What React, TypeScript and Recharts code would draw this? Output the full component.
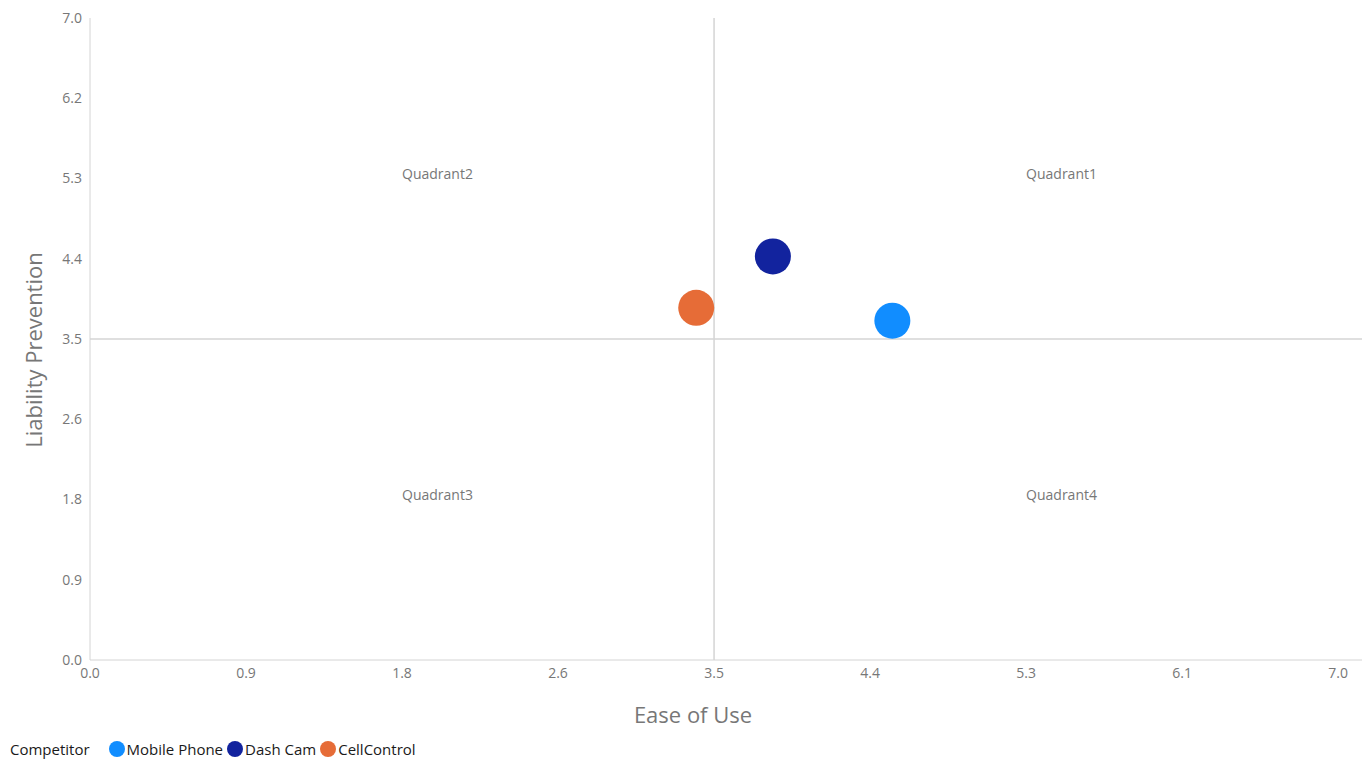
import React from 'react';
import {
  ScatterChart,
  Scatter,
  XAxis,
  YAxis,
  ReferenceLine,
} from 'recharts';

const competitors = ['Mobile Phone', 'Dash Cam', 'CellControl'];
const easeOfUse = [4.5, 3.83, 3.4];
const liabilityPrevention = [3.7, 4.4, 3.84];
const colors = ['#118DFF', '#12239E', '#E66C37'];

const tickValues = [0, 0.875, 1.75, 2.625, 3.5, 4.375, 5.25, 6.125, 7];
const xTickLabels = ['0.0', '0.9', '1.8', '2.6', '3.5', '4.4', '5.3', '6.1', '7.0'];
const yTickLabels = ['0.0', '0.9', '1.8', '2.6', '3.5', '4.4', '5.3', '6.2', '7.0'];

const quadrantNames = ['Quadrant1', 'Quadrant2', 'Quadrant3', 'Quadrant4'];
const quadrantX = [5.25, 1.75, 1.75, 5.25];
const quadrantY = [5.25, 5.25, 1.75, 1.75];

const FONT = '"Segoe UI", "Open Sans", "Noto Sans", sans-serif';
const GREY = '#777777';

const labelFrom = (labels: string[]) => (v: number) => {
  const i = tickValues.indexOf(v);
  return i >= 0 ? labels[i] : String(v);
};

const quadrantData = quadrantNames.map((name, i) => ({ name, x: quadrantX[i], y: quadrantY[i] }));

// quadrant names drawn as text at their data position
const QuadrantLabel = (props: any) => {
  const { cx, cy, payload } = props;
  return (
    <text x={cx} y={cy} dy={0} fill={GREY} fontSize={14} fontFamily={FONT}>
      {payload.name}
    </text>
  );
};

const Bubble = (props: any) => {
  const { cx, cy, fill } = props;
  return <circle cx={cx} cy={cy} r={18} fill={fill} />;
};

const YTitle = () => (
  <text
    x={33}
    y={350}
    transform="rotate(-90, 33, 350)"
    textAnchor="middle"
    dominantBaseline="central"
    fill={GREY}
    fontSize={22}
    fontFamily={FONT}
  >
    Liability Prevention
  </text>
);

export default function App() {
  return (
    <div style={{ position: 'absolute', left: 0, top: 0, width: 1362, height: 762, background: '#fff', fontFamily: FONT }}>
      <ScatterChart width={1362} height={740} margin={{ top: 18, right: 0, left: 0, bottom: 10 }}>
        <XAxis
          type="number"
          dataKey="x"
          domain={[0, 7.134]}
          ticks={tickValues}
          tickFormatter={labelFrom(xTickLabels)}
          tickLine={false}
          axisLine={{ stroke: '#d4d4d4' }}
          tick={{ fontSize: 14, fill: GREY, fontFamily: FONT }}
          height={70}
          allowDataOverflow
          label={{ value: 'Ease of Use', position: 'insideBottom', offset: 7, dx: -33, fill: GREY, fontSize: 22, fontFamily: FONT }}
        />
        <YAxis
          type="number"
          dataKey="y"
          domain={[0, 7]}
          ticks={tickValues}
          tickFormatter={labelFrom(yTickLabels)}
          tickLine={false}
          axisLine={{ stroke: '#d4d4d4' }}
          tick={{ fontSize: 14, fill: GREY, fontFamily: FONT }}
          width={90}
          label={{ content: <YTitle /> }}
        />
        <ReferenceLine x={3.5} stroke="#d4d4d4" strokeWidth={1.5} />
        <ReferenceLine y={3.5} stroke="#d4d4d4" strokeWidth={1.5} />
        <Scatter data={quadrantData} shape={<QuadrantLabel />} isAnimationActive={false} />
        {competitors.map((name, i) => (
          <Scatter
            key={name}
            name={name}
            data={[{ x: easeOfUse[i], y: liabilityPrevention[i] }]}
            fill={colors[i]}
            shape={<Bubble />}
            isAnimationActive={false}
          />
        ))}
      </ScatterChart>
      <div style={{ position: 'absolute', left: 10, top: 739, display: 'flex', alignItems: 'center', fontSize: 15, color: '#1a1a1a', whiteSpace: 'nowrap' }}>
        <span style={{ marginRight: 19 }}>Competitor</span>
        {competitors.map((name, i) => (
          <span key={name} style={{ display: 'inline-flex', alignItems: 'center', marginRight: 4 }}>
            <span style={{ width: 16, height: 16, borderRadius: '50%', background: colors[i], display: 'inline-block', marginRight: 2 }} />
            {name}
          </span>
        ))}
      </div>
    </div>
  );
}
